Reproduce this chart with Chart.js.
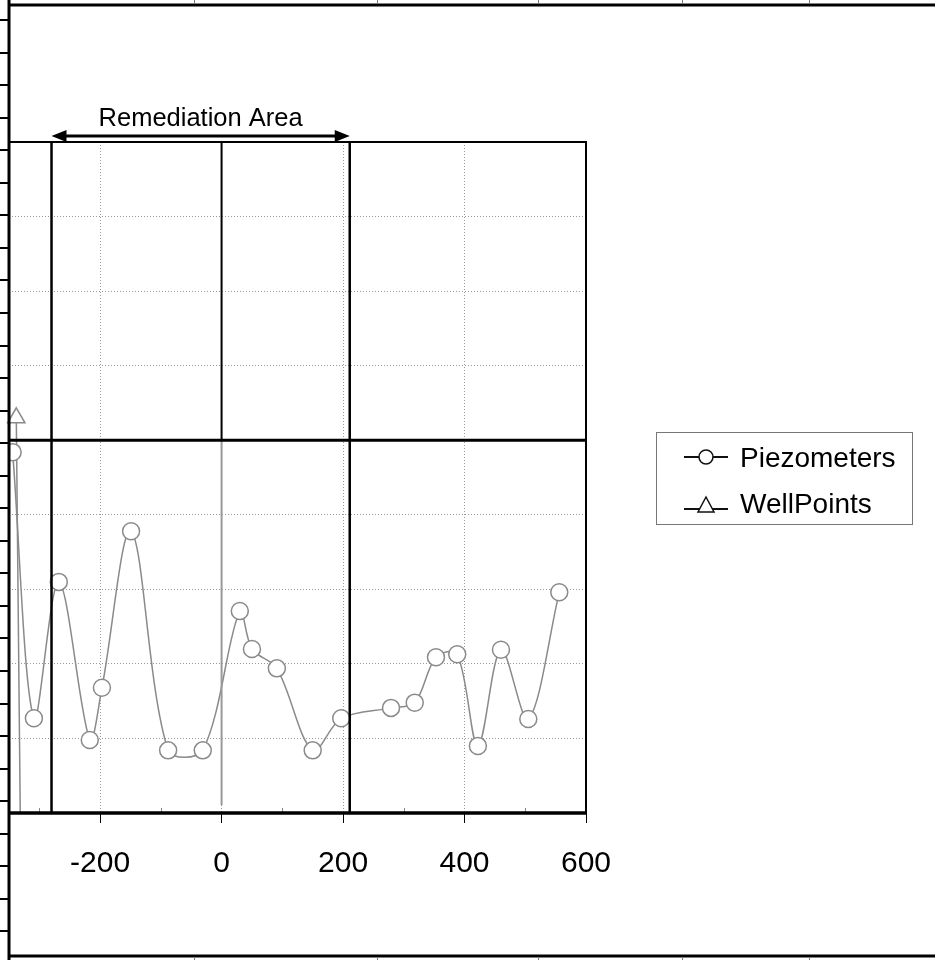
<!DOCTYPE html>
<html lang="en">
<head>
    <meta charset="UTF-8">
    <title>Remediation Area</title>
    <script src="https://cdn.jsdelivr.net/npm/chart.js"></script>
    <style>
        body {
            margin: 0;
            padding: 0;
            background: #ffffff;
        }
        canvas {
            display: block;
        }
    </style>
</head>
<body>
    <canvas id="chart" width="935" height="960"></canvas>

    <script>
        // Data
        const xTicks = [-200, 0, 200, 400, 600];
        const xMinorTicks = [-300, -100, 100, 300, 500];
        const piezoX = [-344, -309, -268, -217, -197, -149, -88, -31, 30, 50, 91, 150, 197, 279, 318, 353, 388, 422, 460, 505, 556];
        const piezoY = [4.84, 1.27, 3.10, 0.98, 1.68, 3.78, 0.84, 0.84, 2.71, 2.20, 1.94, 0.84, 1.27, 1.41, 1.48, 2.09, 2.13, 0.90, 2.19, 1.26, 2.96];
        const wellX = [-338, -331];
        const wellY = [5.30, -0.4];
        const remediation = [-280, 211];
        const crossX = 0;
        const crossY = 5;

        const FONT = '"Liberation Sans", Arial, sans-serif';

        function toPoints(xs, ys) {
            return xs.map((x, i) => ({ x: x, y: ys[i] }));
        }

        // Lines, frame, arrow and legend drawn on top of the chart
        const decor = {
            id: 'decor',
            afterDatasetsDraw(chart) {
                const ctx = chart.ctx;
                const area = chart.chartArea;
                const xs = chart.scales.x;
                const ys = chart.scales.y;
                const W = chart.width, H = chart.height;

                ctx.save();
                ctx.lineCap = 'butt';

                // minor ticks inside the plot
                ctx.strokeStyle = '#888';
                ctx.lineWidth = 1;
                xMinorTicks.forEach(v => {
                    const px = Math.round(xs.getPixelForValue(v)) + 0.5;
                    ctx.beginPath();
                    ctx.moveTo(px, area.bottom);
                    ctx.lineTo(px, area.bottom - 5);
                    ctx.stroke();
                });

                // cross lines
                const x0 = xs.getPixelForValue(crossX);
                const y5 = ys.getPixelForValue(crossY);
                ctx.strokeStyle = '#999';
                ctx.lineWidth = 2;
                ctx.beginPath();
                ctx.moveTo(x0, y5);
                ctx.lineTo(x0, area.bottom - 8);
                ctx.stroke();

                ctx.strokeStyle = '#000';
                ctx.lineWidth = 2;
                ctx.beginPath();
                ctx.moveTo(x0, area.top);
                ctx.lineTo(x0, y5);
                ctx.stroke();
                ctx.lineWidth = 3;
                ctx.beginPath();
                ctx.moveTo(area.left, y5);
                ctx.lineTo(area.right, y5);
                ctx.stroke();

                // remediation borders
                const rl = xs.getPixelForValue(remediation[0]);
                const rr = xs.getPixelForValue(remediation[1]);
                ctx.lineWidth = 2.5;
                [rl, rr].forEach(px => {
                    ctx.beginPath();
                    ctx.moveTo(px, area.top);
                    ctx.lineTo(px, area.bottom);
                    ctx.stroke();
                });

                // plot frame
                ctx.lineWidth = 2;
                ctx.beginPath();
                ctx.moveTo(area.left, area.top);
                ctx.lineTo(area.right, area.top);
                ctx.lineTo(area.right, area.bottom);
                ctx.stroke();
                ctx.lineWidth = 3.5;
                ctx.beginPath();
                ctx.moveTo(area.left, area.bottom);
                ctx.lineTo(area.right, area.bottom);
                ctx.stroke();

                // outer frame
                ctx.lineWidth = 3;
                ctx.beginPath();
                ctx.moveTo(area.left, 0);
                ctx.lineTo(area.left, H);
                ctx.moveTo(area.left, 5);
                ctx.lineTo(W, 5);
                ctx.moveTo(area.left, 956);
                ctx.lineTo(W, 956);
                ctx.stroke();
                ctx.lineWidth = 2;
                for (let y = 20; y < H; y += 32.55) {
                    ctx.beginPath();
                    ctx.moveTo(0, Math.round(y));
                    ctx.lineTo(area.left, Math.round(y));
                    ctx.stroke();
                }
                ctx.strokeStyle = '#777';
                ctx.lineWidth = 1;
                [194, 377, 538, 682, 809].forEach(px => {
                    ctx.beginPath();
                    ctx.moveTo(px + 0.5, 0);
                    ctx.lineTo(px + 0.5, 4);
                    ctx.moveTo(px + 0.5, 958);
                    ctx.lineTo(px + 0.5, H);
                    ctx.stroke();
                });

                // remediation arrow
                const ay = area.top - 6;
                ctx.strokeStyle = '#000';
                ctx.fillStyle = '#000';
                ctx.lineWidth = 3;
                ctx.beginPath();
                ctx.moveTo(rl + 12, ay);
                ctx.lineTo(rr - 12, ay);
                ctx.stroke();
                ctx.beginPath();
                ctx.moveTo(rl, ay);
                ctx.lineTo(rl + 15, ay - 6);
                ctx.lineTo(rl + 15, ay + 6);
                ctx.closePath();
                ctx.fill();
                ctx.beginPath();
                ctx.moveTo(rr, ay);
                ctx.lineTo(rr - 15, ay - 6);
                ctx.lineTo(rr - 15, ay + 6);
                ctx.closePath();
                ctx.fill();

                ctx.font = '25.5px ' + FONT;
                ctx.textAlign = 'center';
                ctx.textBaseline = 'alphabetic';
                ctx.fillText('Remediation Area', (rl + rr) / 2, 126);

                // legend
                ctx.strokeStyle = '#777';
                ctx.lineWidth = 1;
                ctx.strokeRect(656.5, 432.5, 256, 92);
                ctx.strokeStyle = '#111';
                ctx.lineWidth = 2;
                ctx.beginPath();
                ctx.moveTo(684, 457);
                ctx.lineTo(728, 457);
                ctx.moveTo(684, 509);
                ctx.lineTo(728, 509);
                ctx.stroke();
                ctx.fillStyle = '#fff';
                ctx.lineWidth = 1.5;
                ctx.beginPath();
                ctx.arc(706, 457, 7, 0, Math.PI * 2);
                ctx.fill();
                ctx.stroke();
                ctx.beginPath();
                ctx.moveTo(706, 497);
                ctx.lineTo(714, 512);
                ctx.lineTo(698, 512);
                ctx.closePath();
                ctx.fill();
                ctx.stroke();

                ctx.fillStyle = '#000';
                ctx.font = '28px ' + FONT;
                ctx.textAlign = 'left';
                ctx.fillText('Piezometers', 740, 467);
                ctx.fillText('WellPoints', 740, 513);

                ctx.restore();
            }
        };

        const ctx = document.getElementById('chart').getContext('2d');
        const chart = new Chart(ctx, {
            type: 'line',
            data: {
                datasets: [{
                    label: 'Piezometers',
                    data: toPoints(piezoX, piezoY),
                    borderColor: '#8a8a8a',
                    borderWidth: 1.5,
                    tension: 0.33,
                    pointStyle: 'circle',
                    pointRadius: 8.5,
                    pointBorderWidth: 1.5,
                    pointBorderColor: '#8a8a8a',
                    pointBackgroundColor: '#ffffff'
                }, {
                    label: 'WellPoints',
                    data: toPoints(wellX, wellY),
                    borderColor: '#8a8a8a',
                    borderWidth: 1.5,
                    pointStyle: 'triangle',
                    pointRadius: [10, 0],
                    pointBorderWidth: 1.5,
                    pointBorderColor: '#8a8a8a',
                    pointBackgroundColor: '#ffffff',
                    clip: { left: 10, top: 0, right: 0, bottom: 0 }
                }]
            },
            options: {
                responsive: false,
                animation: false,
                layout: {
                    autoPadding: false,
                    padding: { left: 9, right: 349, top: 142, bottom: 0 }
                },
                plugins: {
                    legend: { display: false },
                    tooltip: { enabled: false }
                },
                scales: {
                    x: {
                        type: 'linear',
                        min: -350,
                        max: 600,
                        afterBuildTicks: scale => {
                            scale.ticks = xTicks.map(v => ({ value: v }));
                        },
                        afterFit: scale => {
                            scale.height = 147;
                        },
                        grid: {
                            color: '#9a9a9a',
                            lineWidth: 1,
                            drawTicks: true,
                            tickLength: 10,
                            tickColor: '#000',
                            tickWidth: 1
                        },
                        border: { display: false, dash: [1, 2] },
                        ticks: {
                            color: '#000',
                            font: { family: FONT, size: 30 },
                            padding: 23,
                            maxRotation: 0
                        }
                    },
                    y: {
                        type: 'linear',
                        min: 0,
                        max: 9,
                        afterFit: scale => {
                            scale.width = 0;
                        },
                        grid: {
                            color: '#9a9a9a',
                            lineWidth: 1,
                            drawTicks: false
                        },
                        border: { display: false, dash: [1, 2] },
                        ticks: { display: false, stepSize: 1 }
                    }
                }
            },
            plugins: [decor]
        });
    </script>
</body>
</html>
